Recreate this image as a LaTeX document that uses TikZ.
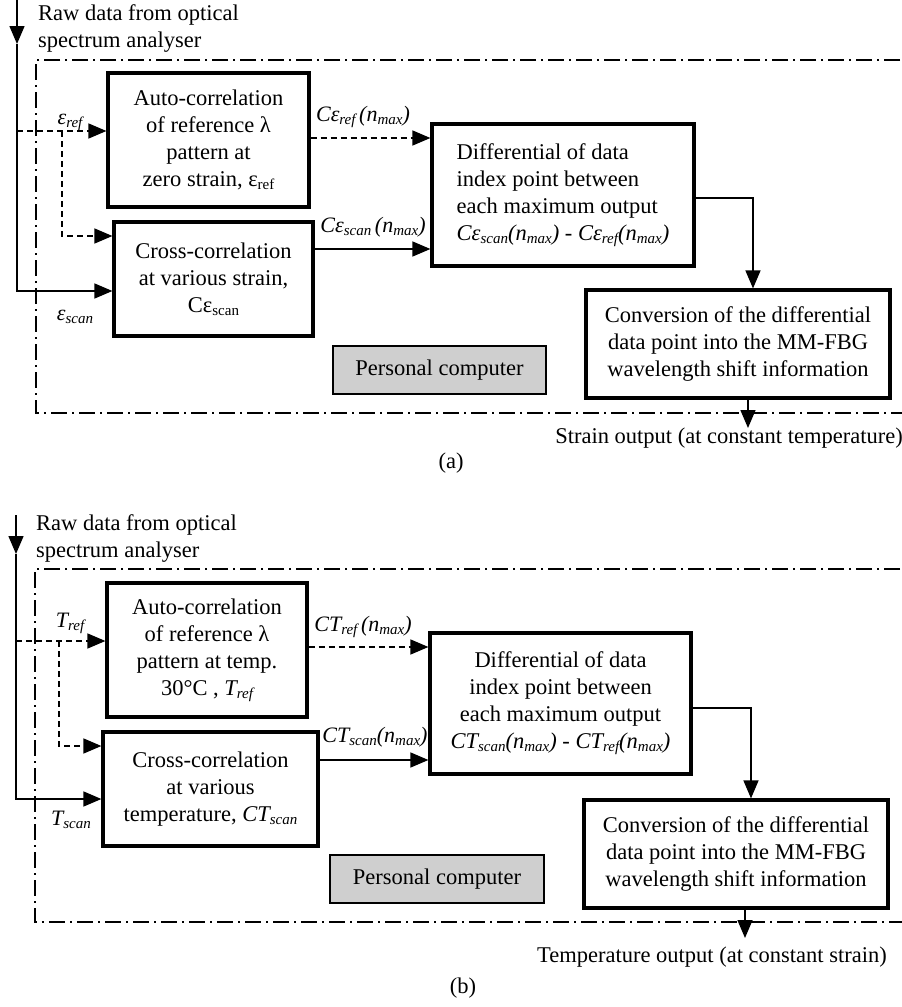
\documentclass[tikz,border=0pt]{standalone}
\usepackage{fontspec}
\setmainfont{Liberation Serif}
\usetikzlibrary{arrows.meta}
\newcommand\sbs[1]{\raisebox{-0.3ex}{\fontsize{15}{15}\selectfont #1}}
\begin{document}
\begin{tikzpicture}[x=1pt,y=-1pt,
  txt/.style={font=\fontsize{22.5}{27}\selectfont, inner sep=0pt, align=left},
  lbl/.style={font=\fontsize{22}{25}\selectfont\itshape, inner sep=0pt},
  box/.style={draw, line width=3.2pt, align=center, inner sep=0pt, font=\fontsize{22.5}{27}\selectfont},
  conn/.style={line width=1.5pt},
  dsh/.style={conn, dash pattern=on 6pt off 4pt},
  dd/.style={line width=1.8pt, dash pattern=on 16pt off 5pt on 2pt off 5pt},
  tip/.style={-{Triangle[length=18pt,width=15pt]}},
  pcbox/.style={draw, line width=1.6pt, fill=gray!38, inner sep=0pt, minimum height=48pt, font=\fontsize{22.5}{27}\selectfont}
]
\useasboundingbox (0,0) rectangle (902,1007);

% ================= panel (a) =================
\node[txt, anchor=west] (araw) at (38,28.5) {Raw data from optical\\spectrum analyser};
\draw[dd] (900,60) -- (36,60) -- (36,413) -- (902,413);

\node[box, minimum width=201pt, minimum height=134pt] (ab1) at (208.5,140)
  {Auto-correlation\\of reference λ\\pattern at\\zero strain, ε\sbs{ref}};
\node[box, minimum width=199pt, minimum height=114pt] (ab2) at (213.5,279)
  {Cross-correlation\\at various strain,\\Cε\sbs{scan}};
\node[box, align=left, minimum width=262pt, minimum height=142pt] (ab3) at (563,195)
  {Differential of data\\index point between\\each maximum output\\\textit{Cε\sbs{scan}(n\sbs{max}) - Cε\sbs{ref}(n\sbs{max})}};
\node[box, minimum width=304pt, minimum height=108pt] (ab4) at (738,344)
  {Conversion of the differential\\data point into the MM-FBG\\wavelength shift information};
\node[pcbox, minimum width=213pt] (apc) at (439.5,370) {Personal computer};

\coordinate (atop) at (17,0);
\coordinate (amid) at (17,44);
\coordinate (acorner) at (17,291);
\coordinate (ad0) at (17,131);
\coordinate (abr) at (62,131);
\coordinate (abr2) at (62,236);
\coordinate (ar1) at (0,138);
\coordinate (ar2) at (0,249);
\coordinate (aout) at (748,428);

\draw[conn, tip] (atop) -- (amid);
\draw[conn, tip] (amid) -- (acorner) -- (acorner -| ab2.west);
\draw[dsh, tip] (ad0) -- (ad0 -| ab1.west);
\draw[dsh, tip] (abr) -- (abr2) -- (abr2 -| ab2.west);
\draw[dsh, tip] (ar1 -| ab1.east) -- (ar1 -| ab3.west);
\draw[conn, tip] (ar2 -| ab2.east) -- (ar2 -| ab3.west);
\draw[conn, tip] ([yshift=-3pt]ab3.east) -| ([xshift=15pt]ab4.north);
\draw[conn, tip] (aout |- ab4.south) -- (aout);

\node[lbl] (lepsref) at (70,122) {ε\sbs{ref}};
\node[lbl] (lepsscan) at (75,317) {ε\sbs{scan}};
\node[lbl] (lcref) at (363,117) {Cε\sbs{ref}\,(n\sbs{max})};
\node[lbl] (lcscan) at (373,227) {Cε\sbs{scan}\,(n\sbs{max})};
\node[txt] (aoutt) at (729,438) {Strain output (at constant temperature)};
\node[txt] (acap) at (451,463) {(a)};

% ================= panel (b) =================
\node[txt, anchor=west] (braw) at (36,538.5) {Raw data from optical\\spectrum analyser};
\draw[dd] (900,569) -- (35,569) -- (35,922) -- (902,922);

\node[box, minimum width=200pt, minimum height=134pt] (bb1) at (207,650)
  {Auto-correlation\\of reference λ\\pattern at temp.\\30°C , \textit{T\sbs{ref}}};
\node[box, minimum width=215pt, minimum height=114pt] (bb2) at (210.5,789)
  {Cross-correlation\\at various\\temperature, \textit{CT\sbs{scan}}};
\node[box, minimum width=261pt, minimum height=141pt] (bb3) at (560.5,703.5)
  {Differential of data\\index point between\\each maximum output\\\textit{CT\sbs{scan}(n\sbs{max}) - CT\sbs{ref}(n\sbs{max})}};
\node[box, minimum width=304pt, minimum height=108pt] (bb4) at (736,854)
  {Conversion of the differential\\data point into the MM-FBG\\wavelength shift information};
\node[pcbox, minimum width=214pt] (bpc) at (437,879) {Personal computer};

\coordinate (btop) at (16,515);
\coordinate (bmid) at (16,554);
\coordinate (bcorner) at (16,799);
\coordinate (bd0) at (16,641);
\coordinate (bbr) at (59,641);
\coordinate (bbr2) at (59,746);
\coordinate (br1) at (0,647);
\coordinate (br2) at (0,760);
\coordinate (bout) at (745,938);

\draw[conn, tip] (btop) -- (bmid);
\draw[conn, tip] (bmid) -- (bcorner) -- (bcorner -| bb2.west);
\draw[dsh, tip] (bd0) -- (bd0 -| bb1.west);
\draw[dsh, tip] (bbr) -- (bbr2) -- (bbr2 -| bb2.west);
\draw[dsh, tip] (br1 -| bb1.east) -- (br1 -| bb3.west);
\draw[conn, tip] (br2 -| bb2.east) -- (br2 -| bb3.west);
\draw[conn, tip] ([yshift=-4.5pt]bb3.east) -| ([xshift=15pt]bb4.north);
\draw[conn, tip] (bout |- bb4.south) -- (bout);

\node[lbl] (ltref) at (70,623) {T\sbs{ref}};
\node[lbl] (ltscan) at (71,820) {T\sbs{scan}};
\node[lbl] (lctref) at (363,627) {CT\sbs{ref}\,(n\sbs{max})};
\node[lbl] (lctscan) at (375,737) {CT\sbs{scan}(n\sbs{max})};
\node[txt] (boutt) at (712,957) {Temperature output (at constant strain)};
\node[txt] (bcap) at (463,988) {(b)};
\end{tikzpicture}
\end{document}
